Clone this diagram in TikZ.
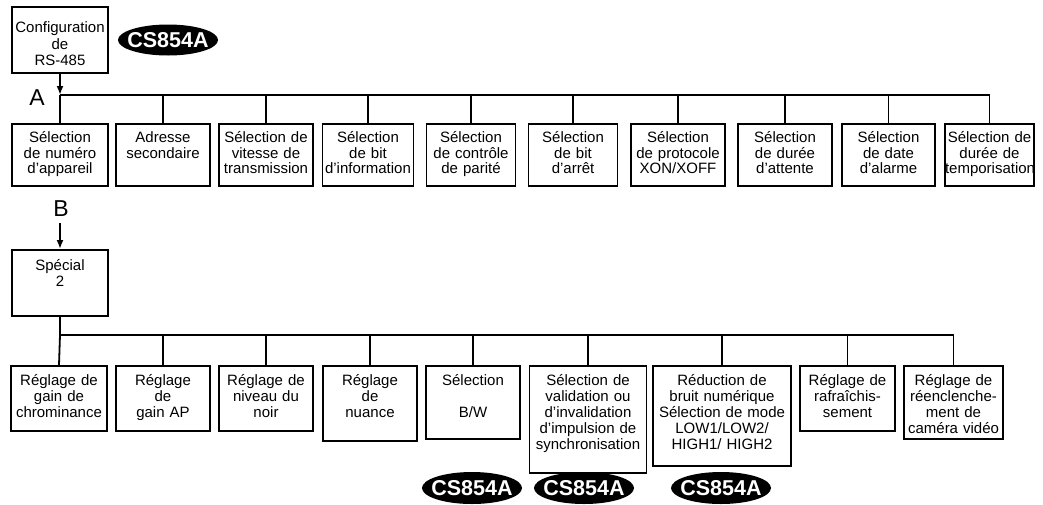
\documentclass[tikz,border=0pt]{standalone}
\usepackage{fontspec}
\setmainfont{Liberation Sans}
\usetikzlibrary{arrows.meta,shapes.geometric}
\tikzset{
  box/.style={draw, line width=1.8pt, inner sep=0pt, align=center, anchor=north,
    font=\fontsize{15}{15.5}\selectfont, text height=19pt},
  boxb/.style={box, font=\fontsize{15}{16}\selectfont, text height=20pt},
  conn/.style={line width=1.8pt},
  tip/.style={-{Latex[length=9pt,width=7pt]}},
  badge/.style={ellipse, fill=black, text=white, inner sep=0pt, minimum width=100pt,
    minimum height=31pt, font=\fontsize{21.5}{22}\selectfont\bfseries},
  lbl/.style={font=\fontsize{23}{23}\selectfont, inner sep=0pt}
}
\begin{document}
\begin{tikzpicture}[x=1pt,y=-1pt]
\useasboundingbox (0,0) rectangle (1043,504);

% top part
\node[box, text width=96pt, text height=26pt, text depth=40pt, font=\fontsize{15}{16.5}\selectfont] (cfg) at (60,6) {Configuration\\de\\RS-485};
\node[badge] (cs0) at (168,40) {\makebox[0pt]{CS854A}};
\node[lbl] (lA) at (37,98) {A};

\node[box, text width=96pt, text depth=43pt] (t1) at (60,123) {Sélection\\de numéro\\d'appareil};
\node[box, text width=94pt, text depth=43pt] (t2) at (163,123) {Adresse\\secondaire};
\node[box, text width=94pt, text depth=43pt] (t3) at (266,123) {Sélection de\\vitesse de\\transmission};
\node[box, text width=91pt, text depth=43pt] (t4) at (368,123) {Sélection\\de bit\\d'information};
\node[box, text width=89pt, text depth=43pt] (t5) at (471,123) {Sélection\\de contrôle\\de parité};
\node[box, text width=89pt, text depth=43pt] (t6) at (573,123) {Sélection\\de bit\\d'arrêt};
\node[box, text width=94pt, text depth=43pt] (t7) at (678,123) {Sélection\\de protocole\\XON/XOFF};
\node[box, text width=94pt, text depth=43pt] (t8) at (785,123) {Sélection\\de durée\\d'attente};
\node[box, text width=93pt, text depth=43pt] (t9) at (888.5,123) {Sélection\\de date\\d'alarme};
\node[box, text width=89pt, text depth=43pt] (t10) at (989.5,123) {Sélection de\\durée de\\temporisation};

\coordinate (busA) at (60,95);
\draw[conn, tip] (cfg.south) -- (busA);
\draw[conn] (busA) -- (t1.north);
\draw[conn] (busA) -- (busA -| t10.north) -- (t10.north);
\foreach \i in {2,...,9}{
  \draw[conn] (t\i.north) -- (t\i.north |- busA);
}

% lower part
\node[lbl] (lB) at (61,209) {B};
\coordinate (bTop) at (60,223);
\node[box, text width=96pt, text height=21pt, text depth=45pt] (sp) at (60,249) {Spécial\\2};
\draw[conn, tip] (bTop) -- (sp.north);

\node[boxb, text width=96pt, text depth=45pt] (b1) at (59,365) {Réglage de\\gain de\\chrominance};
\node[boxb, text width=94pt, text depth=45pt] (b2) at (163,365) {Réglage\\de\\gain AP};
\node[boxb, text width=94pt, text depth=45pt] (b3) at (266,365) {Réglage de\\niveau du\\noir};
\node[boxb, text width=94pt, text depth=55pt] (b4) at (370,365) {Réglage\\de\\nuance};
\node[boxb, text width=94pt, text depth=53pt] (b5) at (473,365) {Sélection\\[16pt]B/W};
\node[boxb, text width=117pt, text depth=87pt] (b6) at (588,365) {Sélection de\\validation ou\\d'invalidation\\d'impulsion de\\synchronisation};
\node[boxb, text width=138pt, text depth=80pt] (b7) at (722,365) {Réduction de\\bruit numérique\\Sélection de mode\\LOW1/LOW2/\\HIGH1/ HIGH2};
\node[boxb, text width=95pt, text depth=45pt] (b8) at (847.5,365) {Réglage de\\rafraîchis-\\sement};
\node[boxb, text width=99pt, text depth=53pt] (b9) at (953.5,365) {Réglage de\\réenclenche-\\ment de\\caméra vidéo};

\coordinate (busB) at (60,335);
\draw[conn] (sp.south) -- (busB);
\draw[conn] (busB) -- (b1.north);
\draw[conn] (busB) -- (busB -| b9.north) -- (b9.north);
\foreach \i in {2,...,8}{
  \draw[conn] (b\i.north) -- (b\i.north |- busB);
}

\node[badge, minimum height=32pt] (cs1) at (472,488) {\makebox[0pt]{CS854A}};
\node[badge, minimum height=32pt] (cs2) at (584,488) {\makebox[0pt]{CS854A}};
\node[badge, minimum height=32pt] (cs3) at (721,488) {\makebox[0pt]{CS854A}};
\end{tikzpicture}
\end{document}
